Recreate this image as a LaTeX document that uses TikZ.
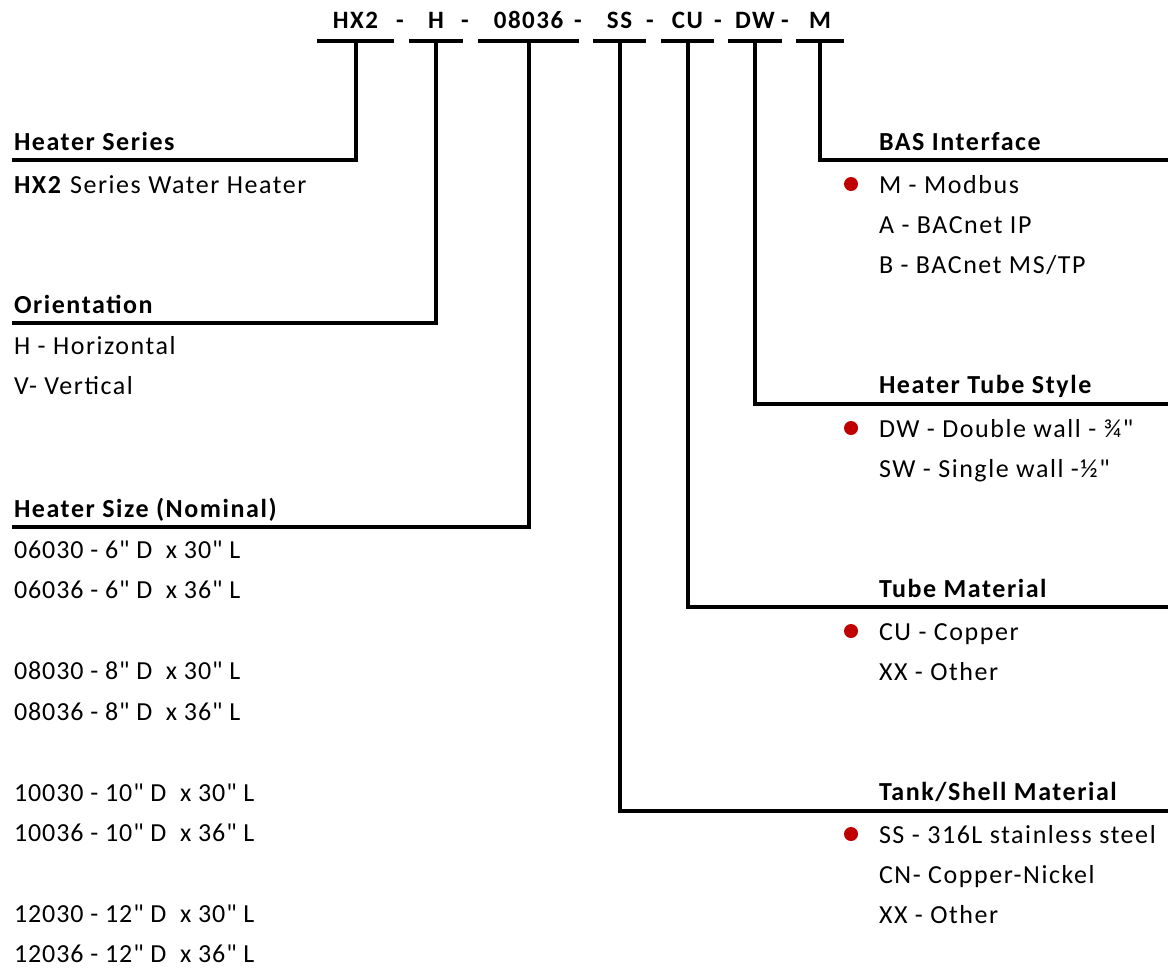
\documentclass[tikz,border=0pt]{standalone}
\usepackage{fontspec}
\newfontfamily\calfont{Carlito}[LetterSpace=6]
\newfontfamily\numfont{Carlito}[LetterSpace=3.5]
\usetikzlibrary{positioning}
\definecolor{dotred}{RGB}{192,0,0}
\def\lx{12}  % left text column
\def\rx{877} % right text column
\tikzset{
code/.style={font=\fontsize{25}{30}\calfont\bfseries,anchor=base,
  inner sep=0pt,text depth=11pt,minimum width=#1},
hyphen/.style={font=\fontsize{25}{30}\calfont\bfseries,anchor=base,inner sep=0pt},
head/.style={font=\fontsize{26}{40}\calfont\bfseries,anchor=base west,inner sep=0pt},
item/.style={font=\fontsize{26}{40}\calfont,anchor=base west,inner sep=0pt},
sizeitem/.style={font=\fontsize{26}{40}\numfont,anchor=base west,inner sep=0pt},
bullet/.style={circle,fill=dotred,draw=none,minimum size=14pt,inner sep=0pt}
}
\begin{document}
\begin{tikzpicture}[x=1pt,y=-1pt,line width=4pt]
\useasboundingbox (0,0) rectangle (1174,967);
% model code
\node[code=73] (hx)    at (355.5,28) {HX2};
\node[code=50] (ori)   at (436,28)   {H};
\node[code=97] (size)  at (528.5,28) {08036};
\node[code=49] (shell) at (619.5,28) {SS};
\node[code=49] (tube)  at (687.5,28) {CU};
\node[code=50] (wall)  at (755,28)   {DW};
\node[code=44] (bas)   at (820,28)   {M};
\foreach \x [count=\i] in {400,465,578,650,718,785}
  \node[hyphen] (hy\i) at (\x,28) {-};
\foreach \n in {hx,ori,size,shell,tube,wall,bas}
  \draw (\n.south west) -- (\n.south east);
% left side
\node[head] (serieshead) at (\lx,150) {Heater Series};
\node[item] (series1) at (\lx,193) {\textbf{HX2} Series Water Heater};
\node[head] (orihead) at (\lx,313) {Orientation};
\node[item] (ori1) at (\lx,354) {H - Horizontal};
\node[item] (ori2) at (\lx,394) {V- Vertical};
\node[head] (sizehead) at (\lx,517) {Heater Size (Nominal)};
\foreach \t/\y [count=\i] in {06030 - 6" D~ x 30" L/558,06036 - 6" D~ x 36" L/598.5,
    08030 - 8" D~ x 30" L/679.5,08036 - 8" D~ x 36" L/720,
    10030 - 10" D~ x 30" L/801,10036 - 10" D~ x 36" L/841.5,
    12030 - 12" D~ x 30" L/922.5,12036 - 12" D~ x 36" L/962}
  \node[sizeitem] (size\i) at (\lx,\y) {\t};
% right side
\node[head] (bashead) at (\rx,150) {BAS Interface};
\node[item] (bas1) at (\rx,193) {M - Modbus};
\node[item] (bas2) at (\rx,233) {A - BACnet IP};
\node[item] (bas3) at (\rx,273) {B - BACnet MS/TP};
\node[head] (wallhead) at (\rx,393) {Heater Tube Style};
\node[item] (wall1) at (\rx,437) {DW - Double wall - ¾"};
\node[item] (wall2) at (\rx,477) {SW - Single wall -½"};
\node[head] (tubehead) at (\rx,597) {Tube Material};
\node[item] (tube1) at (\rx,640) {CU - Copper};
\node[item] (tube2) at (\rx,680) {XX - Other};
\node[head] (shellhead) at (\rx,800) {Tank/Shell Material};
\node[item] (shell1) at (\rx,843) {SS - 316L stainless steel};
\node[item] (shell2) at (\rx,883) {CN- Copper-Nickel};
\node[item] (shell3) at (\rx,923) {XX - Other};
% default choices
\foreach \n in {bas1,wall1,tube1,shell1}
  \node[bullet] (\n dot) at ([xshift=-26pt,yshift=9pt]\n.base west) {};
% leader lines
\coordinate (seriesend) at (12,160);
\coordinate (oriend)    at (12,323);
\coordinate (sizeend)   at (12,527);
\coordinate (basend)    at (1168,160);
\coordinate (wallend)   at (1168,404);
\coordinate (tubeend)   at (1168,607);
\coordinate (shellend)  at (1168,811);
\draw (hx.south) |- (seriesend);
\draw (ori.south) |- (oriend);
\draw (size.south) |- (sizeend);
\draw (bas.south) |- (basend);
\draw (wall.south) |- (wallend);
\draw (tube.south) |- (tubeend);
\draw (shell.south) |- (shellend);
\end{tikzpicture}
\end{document}
